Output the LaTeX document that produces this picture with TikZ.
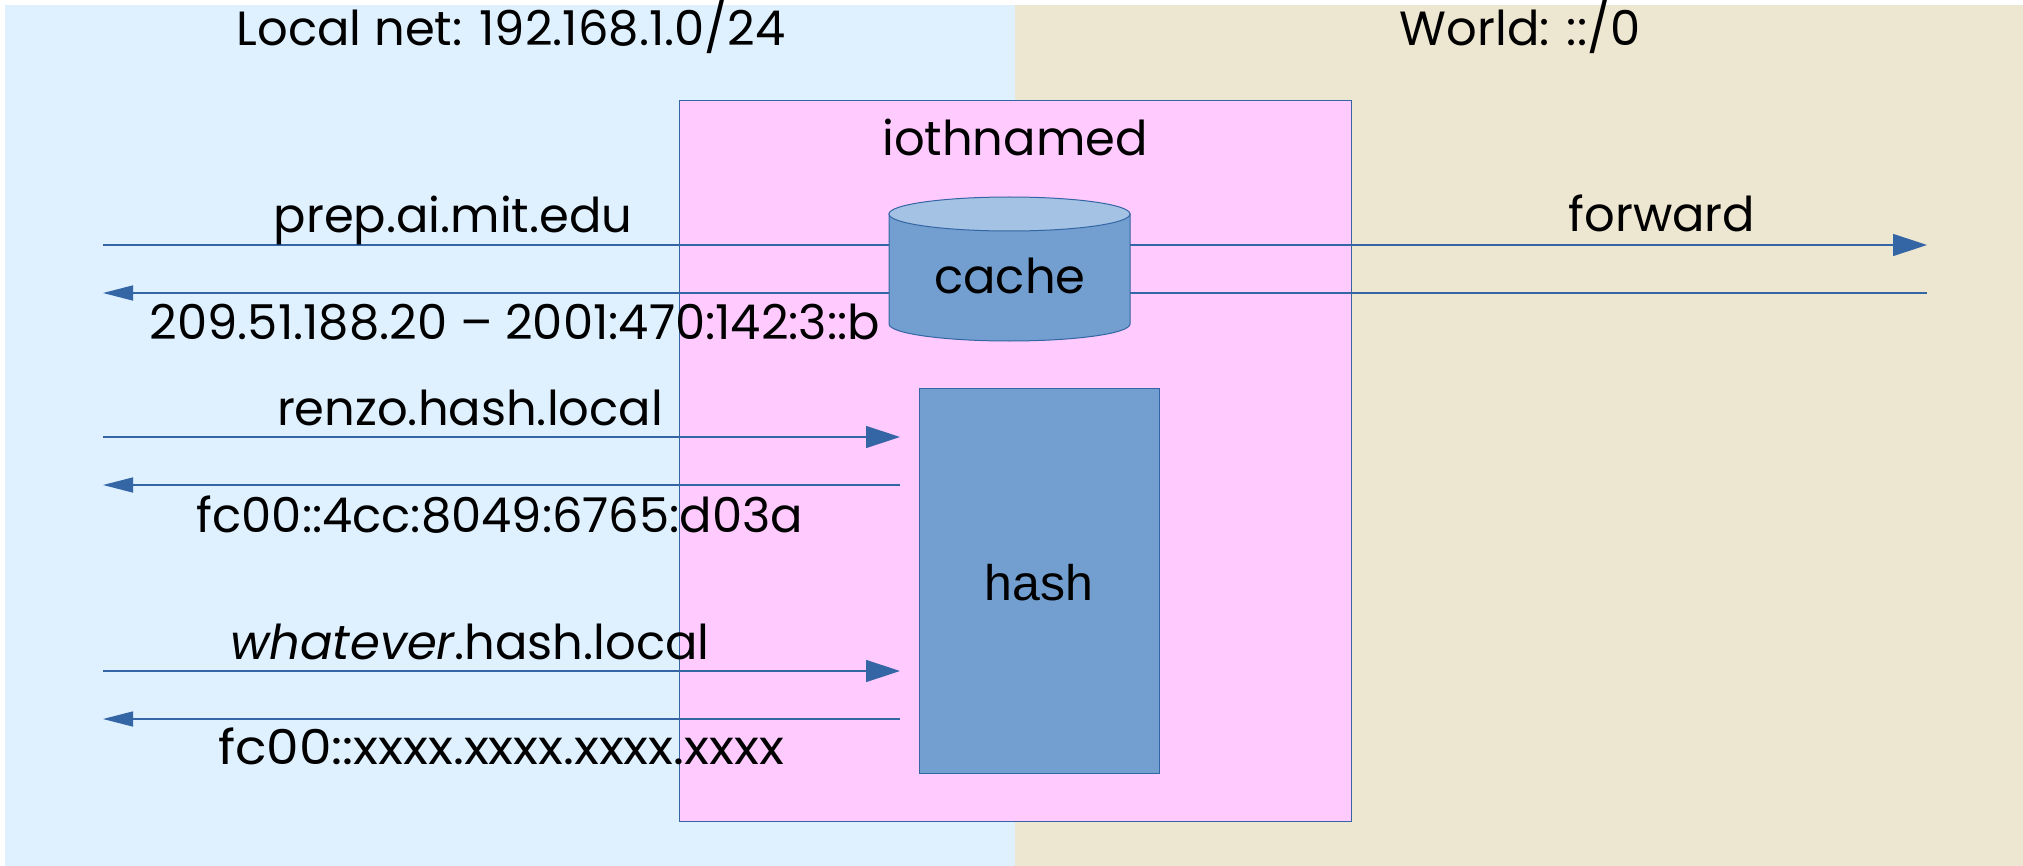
\documentclass[tikz,border=0pt]{standalone}
\usepackage{fontspec}
\setmainfont{Poppins}
\newfontfamily\arialfont{Liberation Sans}
\usetikzlibrary{arrows.meta}
\definecolor{localbg}{RGB}{223,240,254}
\definecolor{worldbg}{RGB}{237,230,208}
\definecolor{pinkbg}{RGB}{255,203,255}
\definecolor{lineblue}{RGB}{52,101,164}
\definecolor{boxblue}{RGB}{114,159,207}
\definecolor{topblue}{RGB}{164,194,227}
\tikzset{
  lbl/.style={anchor=base, inner sep=0pt, font=\fontsize{24}{28}\selectfont},
  conn/.style={draw=lineblue, line width=0.7pt},
  tipright/.style={-{Triangle[length=17pt,width=11pt]}},
  tipleft/.style={-{Triangle[length=15pt,width=7.5pt]}},
  outline/.style={draw=lineblue, line width=0.5pt}
}
\begin{document}
\begin{tikzpicture}[x=0.5pt,y=-0.5pt]
\useasboundingbox (0,0) rectangle (2023,866);
\fill[white] (0,0) rectangle (2023,866);
% regions
\fill[localbg] (5,5) rectangle (1015,866);
\fill[worldbg] (1015,5) rectangle (2023,866);
\node[lbl] (localtitle) at (511,46) {Local net: 192.168.1.0/24};
\node[lbl] (worldtitle) at (1520,46) {World: ::/0};
% iothnamed box
\filldraw[fill=pinkbg, outline] (679,101) rectangle (1351,821);
\node[lbl] (iothnamed) at (1015,156) {iothnamed};
% coordinates for connector ends
\coordinate (q1s) at (103,245);
\coordinate (q1e) at (1927,245);
\coordinate (r1s) at (1927,293);
\coordinate (r1e) at (103,293);
\coordinate (q2s) at (103,437);
\coordinate (q2e) at (900,437);
\coordinate (r2s) at (900,485);
\coordinate (r2e) at (103,485);
\coordinate (q3s) at (103,671);
\coordinate (q3e) at (900,671);
\coordinate (r3s) at (900,719);
\coordinate (r3e) at (103,719);
% connectors
\draw[conn, tipright] (q1s) -- (q1e);
\draw[conn, tipleft] (r1s) -- (r1e);
\draw[conn, tipright] (q2s) -- (q2e);
\draw[conn, tipleft] (r2s) -- (r2e);
\draw[conn, tipright] (q3s) -- (q3e);
\draw[conn, tipleft] (r3s) -- (r3e);
% cache cylinder
\filldraw[fill=boxblue, outline] (889,214) -- (889,324)
  arc[start angle=180, end angle=0, x radius=120.5, y radius=17] -- (1130,214) -- cycle;
\filldraw[fill=topblue, outline] (1009.5,214) ellipse [x radius=120.5, y radius=17];
\node[lbl] (cache) at (1010,293) {cache};
% hash box
\filldraw[fill=boxblue, outline] (919,388) rectangle (1159,773);
\node[lbl, font=\arialfont\fontsize{25}{30}\selectfont] (hash) at (1039,600) {hash};
% labels
\node[lbl] (prep) at (453,233) {prep.ai.mit.edu};
\node[lbl] (fwd) at (1662,232) {forward};
\node[lbl] (ans1) at (515,339) {209.51.188.20 – 2001:470:142:3::b};
\node[lbl] (renzo) at (470,425) {renzo.hash.local};
\node[lbl] (ans2) at (500,532) {fc00::4cc:8049:6765:d03a};
\node[lbl] (whatever) at (470,659) {\textit{whatever}.hash.local};
\node[lbl] (ans3) at (501,764) {\scalebox{1.08}[1]{fc00::xxxx.xxxx.xxxx.xxxx}};
\end{tikzpicture}
\end{document}
